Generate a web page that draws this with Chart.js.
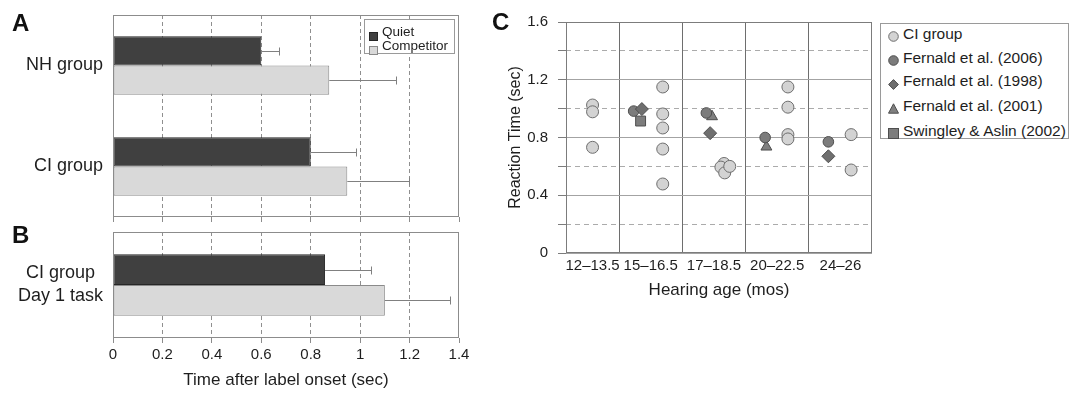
<!DOCTYPE html>
<html><head><meta charset="utf-8">
<script src="https://cdn.jsdelivr.net/npm/chart.js@4"></script>
<style>
html,body{margin:0;padding:0;background:#fff;}
body{width:1074px;height:397px;position:relative;overflow:hidden;font-family:'Liberation Sans',Arial,sans-serif;color:#1e1e1e;}
.box{position:absolute;}
.letter{position:absolute;font-weight:bold;font-size:24px;line-height:24px;color:#111;}
.legend{position:absolute;background:#fff;border:1px solid #9a9a9a;box-sizing:border-box;}
.li{position:absolute;white-space:nowrap;}
.mk{position:absolute;}
</style></head><body>
<div class="box" style="left:0;top:0;width:470px;height:225px"><canvas id="cA" width="470" height="225"></canvas></div>
<div class="box" style="left:0;top:225px;width:470px;height:172px"><canvas id="cB" width="470" height="172"></canvas></div>
<div class="box" style="left:505px;top:0;width:375px;height:397px"><canvas id="cC" width="375" height="397"></canvas></div>
<div class="letter" style="left:12px;top:11px">A</div>
<div class="letter" style="left:12px;top:223px">B</div>
<div class="letter" style="left:492px;top:10px">C</div>
<div id="legA" class="legend" style="left:364px;top:19px;width:91px;height:35px"></div>
<div id="legC" class="legend" style="left:880px;top:23px;width:189px;height:116px"></div>
<script>
// ---------- Data ----------
// Panel A
const groupsA = ['NH group', 'CI group'];
const quietA = [0.60, 0.80];
const quietErrA = [0.07, 0.185];
const competitorA = [0.875, 0.948];
const competitorErrA = [0.27, 0.25];
// Panel B
const groupsB = [['CI group', 'Day 1 task']];
const quietB = [0.858];
const quietErrB = [0.185];
const competitorB = [1.10];
const competitorErrB = [0.265];
const conditionNames = ['Quiet', 'Competitor'];
const timeTicks = [0, 0.2, 0.4, 0.6, 0.8, 1, 1.2, 1.4];
// Panel C
const ageBins = ['12\u201313.5', '15\u201316.5', '17\u201318.5', '20\u201322.5', '24\u201326'];
const binEdges = [0.16, 1, 2, 3, 4, 5];
const binCenters = [0.58, 1.5, 2.5, 3.5, 4.5];
const rtTicks = [0, 0.2, 0.4, 0.6, 0.8, 1.0, 1.2, 1.4, 1.6];
const seriesNames = ['CI group', 'Fernald et al. (2006)', 'Fernald et al. (1998)', 'Fernald et al. (2001)', 'Swingley & Aslin (2002)'];
const ciX = [0.58, 0.58, 0.58, 1.69, 1.69, 1.69, 1.69, 1.69, 2.66, 2.61, 2.67, 2.75, 3.67, 3.67, 3.67, 3.67, 4.67, 4.67];
const ciY = [1.025, 0.978, 0.732, 1.15, 0.963, 0.866, 0.72, 0.478, 0.62, 0.595, 0.555, 0.60, 1.15, 1.01, 0.82, 0.79, 0.82, 0.575];
const f2006X = [1.23, 2.38, 3.31, 4.31];
const f2006Y = [0.983, 0.97, 0.80, 0.77];
const f1998X = [1.36, 2.44, 4.31];
const f1998Y = [0.997, 0.83, 0.67];
const f2001X = [2.47, 3.33];
const f2001Y = [0.945, 0.735];
const swX = [1.34];
const swY = [0.914];

// ---------- Styling ----------
Chart.defaults.font.family = "'Liberation Sans', Arial, sans-serif";
Chart.defaults.color = '#1e1e1e';
const QUIET_FILL = '#404040', QUIET_LINE = '#262626';
const COMP_FILL = '#d9d9d9', COMP_LINE = '#8a8a8a';

const pts = (xs, ys) => xs.map((x, i) => ({x: x, y: ys[i]}));
const fmtNum = v => String(Math.round(v * 10) / 10);
const noPad = s => { s.paddingTop = 0; s.paddingBottom = 0; s.paddingLeft = 0; s.paddingRight = 0; };

const frame = {
  id: 'frame',
  afterDraw(chart, args, opts) {
    if (!opts || !opts.color) return;
    const {ctx, chartArea: a} = chart;
    ctx.save();
    ctx.strokeStyle = opts.color; ctx.lineWidth = 1;
    ctx.strokeRect(Math.round(a.left) + 0.5, Math.round(a.top) + 0.5, Math.round(a.right - a.left) - 1, Math.round(a.bottom - a.top) - 1);
    ctx.restore();
  }
};
const errorBars = {
  id: 'errorBars',
  afterDatasetsDraw(chart) {
    const {ctx} = chart; const xs = chart.scales.x;
    chart.data.datasets.forEach((ds, di) => {
      if (!ds.errors) return;
      const meta = chart.getDatasetMeta(di);
      meta.data.forEach((bar, i) => {
        const x0 = xs.getPixelForValue(ds.data[i]);
        const x1 = Math.round(xs.getPixelForValue(ds.data[i] + ds.errors[i])) + 0.5;
        const y = Math.round(bar.y) + 0.5;
        ctx.save();
        ctx.strokeStyle = '#808080'; ctx.lineWidth = 1;
        ctx.beginPath();
        ctx.moveTo(x0, y); ctx.lineTo(x1, y);
        ctx.moveTo(x1, y - 4); ctx.lineTo(x1, y + 4);
        ctx.stroke();
        ctx.restore();
      });
    });
  }
};

function barChart(id, labels, q, qe, c, ce, withLabels, padTop, xHeight, centerLabels) {
  return new Chart(document.getElementById(id), {
    type: 'bar',
    data: {
      labels: labels,
      datasets: [
        {label: conditionNames[0], data: q, errors: qe, backgroundColor: QUIET_FILL, borderColor: QUIET_LINE, borderWidth: 1, borderSkipped: false},
        {label: conditionNames[1], data: c, errors: ce, backgroundColor: COMP_FILL, borderColor: COMP_LINE, borderWidth: 1, borderSkipped: false}
      ]
    },
    options: {
      indexAxis: 'y', responsive: false, animation: false, devicePixelRatio: 1,
      categoryPercentage: 0.58, barPercentage: 1,
      layout: {padding: {top: padTop, right: 11, bottom: 0, left: 0}},
      plugins: {legend: {display: false}, tooltip: {enabled: false}, frame: {color: '#8c8c8c'}},
      scales: {
        x: {
          type: 'linear', min: 0, max: 1.4,
          afterBuildTicks: s => { s.ticks = timeTicks.map(v => ({value: v})); },
          grid: {color: c => (c.tick && c.tick.value > 0.01 && c.tick.value < 1.39) ? '#8f8f8f' : 'rgba(0,0,0,0)', lineWidth: 1, drawTicks: true, tickLength: 5, tickColor: '#8c8c8c'},
          border: {display: false, dash: [4, 3]},
          ticks: {display: withLabels, padding: 3, font: {size: 15}, color: '#1e1e1e', maxRotation: 0, autoSkip: false, callback: v => fmtNum(v)},
          title: {display: withLabels, text: 'Time after label onset (sec)', font: {size: 17}, color: '#1e1e1e', padding: {top: 0, bottom: 6}},
          afterFit: s => { s.height = xHeight; noPad(s); }
        },
        y: {
          grid: {display: false, drawTicks: false},
          border: {display: false},
          ticks: {padding: 10, font: {size: 18, lineHeight: 1.28}, color: '#1e1e1e', crossAlign: centerLabels ? 'center' : 'near'},
          afterFit: s => { s.width = 113; noPad(s); }
        }
      }
    },
    plugins: [frame, errorBars]
  });
}

barChart('cA', groupsA, quietA, quietErrA, competitorA, competitorErrA, false, 15, 8, false);
barChart('cB', groupsB, quietB, quietErrB, competitorB, competitorErrB, true, 7, 59, true);

// Panel C
const pointStyles = ['circle', 'circle', 'rectRot', 'triangle', 'rect'];
const pointFills = ['#d3d3d3', '#7c7c7c', '#6f6f6f', '#808080', '#7d7d7d'];
const pointLines = ['#6e6e6e', '#4e4e4e', '#4e4e4e', '#4e4e4e', '#4e4e4e'];
const pointRadii = [6, 5.3, 6.5, 6.3, 7];
const seriesData = [pts(ciX, ciY), pts(f2006X, f2006Y), pts(f1998X, f1998Y), pts(f2001X, f2001Y), pts(swX, swY)];
const drawOrder = [0, 2, 1, 3, 4];

new Chart(document.getElementById('cC'), {
  type: 'scatter',
  data: {
    datasets: seriesNames.map((n, i) => ({
      label: n, data: seriesData[i], order: drawOrder[i],
      pointStyle: pointStyles[i], backgroundColor: pointFills[i], borderColor: pointLines[i],
      pointRadius: pointRadii[i], pointBorderWidth: 1, showLine: false
    }))
  },
  options: {
    responsive: false, animation: false, devicePixelRatio: 1,
    layout: {padding: {top: 22, right: 5, bottom: 94, left: 0}},
    plugins: {legend: {display: false}, tooltip: {enabled: false}, frame: {color: '#7c7c7c'}},
    scales: {
      x: {
        type: 'linear', min: binEdges[0], max: binEdges[binEdges.length - 1],
        afterBuildTicks: s => {
          const v = binEdges.slice(1, -1).concat(binCenters).sort((a, b) => a - b);
          s.ticks = v.map(x => ({value: x}));
        },
        grid: {color: c => (c.tick && Number.isInteger(c.tick.value)) ? '#6e6e6e' : 'rgba(0,0,0,0)', lineWidth: 1, drawTicks: false},
        border: {display: false},
        ticks: {padding: 4, autoSkip: false, maxRotation: 0, font: {size: 15}, color: '#1e1e1e',
          callback: v => { const k = binCenters.indexOf(v); return k >= 0 ? ageBins[k] : ''; }},
        title: {display: true, text: 'Hearing age (mos)', font: {size: 17}, color: '#1e1e1e', padding: {top: 0, bottom: 2}},
        afterFit: s => { s.height = 50; noPad(s); }
      },
      y: {
        min: 0, max: 1.6,
        afterBuildTicks: s => { s.ticks = rtTicks.map(v => ({value: v})); },
        grid: {color: c => (c.tick && Math.round(c.tick.value * 10) % 4 === 0) ? '#a3a3a3' : 'rgba(0,0,0,0)', lineWidth: 1, drawTicks: true, tickLength: 8, tickColor: '#7c7c7c'},
        border: {display: false},
        ticks: {padding: 10, font: {size: 15}, color: '#1e1e1e', autoSkip: false,
          callback: v => (Math.round(v * 10) % 4 === 0) ? fmtNum(v) : ''},
        title: {display: true, text: 'Reaction Time (sec)', font: {size: 16}, color: '#1e1e1e', padding: {top: 1, bottom: 0}},
        afterFit: s => { s.width = 61; noPad(s); }
      },
      y2: {
        position: 'right', min: 0, max: 1.6,
        afterBuildTicks: s => { s.ticks = rtTicks.filter(v => Math.round(v * 10) % 4 !== 0).map(v => ({value: v})); },
        grid: {color: '#ababab', lineWidth: 1, drawTicks: false},
        border: {display: false, dash: [5, 4]},
        ticks: {display: false},
        afterFit: s => { s.width = 0; noPad(s); }
      }
    }
  },
  plugins: [frame]
});

// ---------- HTML legends ----------
function svgMarker(style, fill, line, size) {
  const s = size, h = s / 2;
  let shape = '';
  if (style === 'circle') shape = `<circle cx="${h}" cy="${h}" r="${h - 0.7}" fill="${fill}" stroke="${line}" stroke-width="1"/>`;
  else if (style === 'rectRot') shape = `<polygon points="${h},0.6 ${s - 0.6},${h} ${h},${s - 0.6} 0.6,${h}" fill="${fill}" stroke="${line}" stroke-width="1"/>`;
  else if (style === 'triangle') shape = `<polygon points="${h},0.8 ${s - 0.5},${s - 0.8} 0.5,${s - 0.8}" fill="${fill}" stroke="${line}" stroke-width="1"/>`;
  else shape = `<rect x="0.5" y="0.5" width="${s - 1}" height="${s - 1}" fill="${fill}" stroke="${line}" stroke-width="1"/>`;
  return `<svg width="${s}" height="${s}" viewBox="0 0 ${s} ${s}">${shape}</svg>`;
}
(function () {
  const la = document.getElementById('legA');
  const fills = [QUIET_FILL, COMP_FILL], lines = [QUIET_LINE, COMP_LINE];
  const centers = [12, 25.5];
  conditionNames.forEach((n, i) => {
    la.insertAdjacentHTML('beforeend',
      `<div class="mk" style="left:4px;top:${centers[i] - 5}px">${svgMarker('rect', fills[i], lines[i], 9)}</div>` +
      `<div class="li" style="left:17px;top:${centers[i] - 8}px;font-size:13.5px;line-height:16px">${n}</div>`);
  });
  const lc = document.getElementById('legC');
  const cC = [9.5, 33.5, 57, 81.5, 106.5];
  seriesNames.forEach((n, i) => {
    lc.insertAdjacentHTML('beforeend',
      `<div class="mk" style="left:7px;top:${cC[i] - 5.5}px">${svgMarker(pointStyles[i], pointFills[i], pointLines[i], 11)}</div>` +
      `<div class="li" style="left:22px;top:${cC[i] - 9}px;font-size:15.5px;line-height:18px">${n.replace('&', '&amp;')}</div>`);
  });
})();
</script>
</body></html>
